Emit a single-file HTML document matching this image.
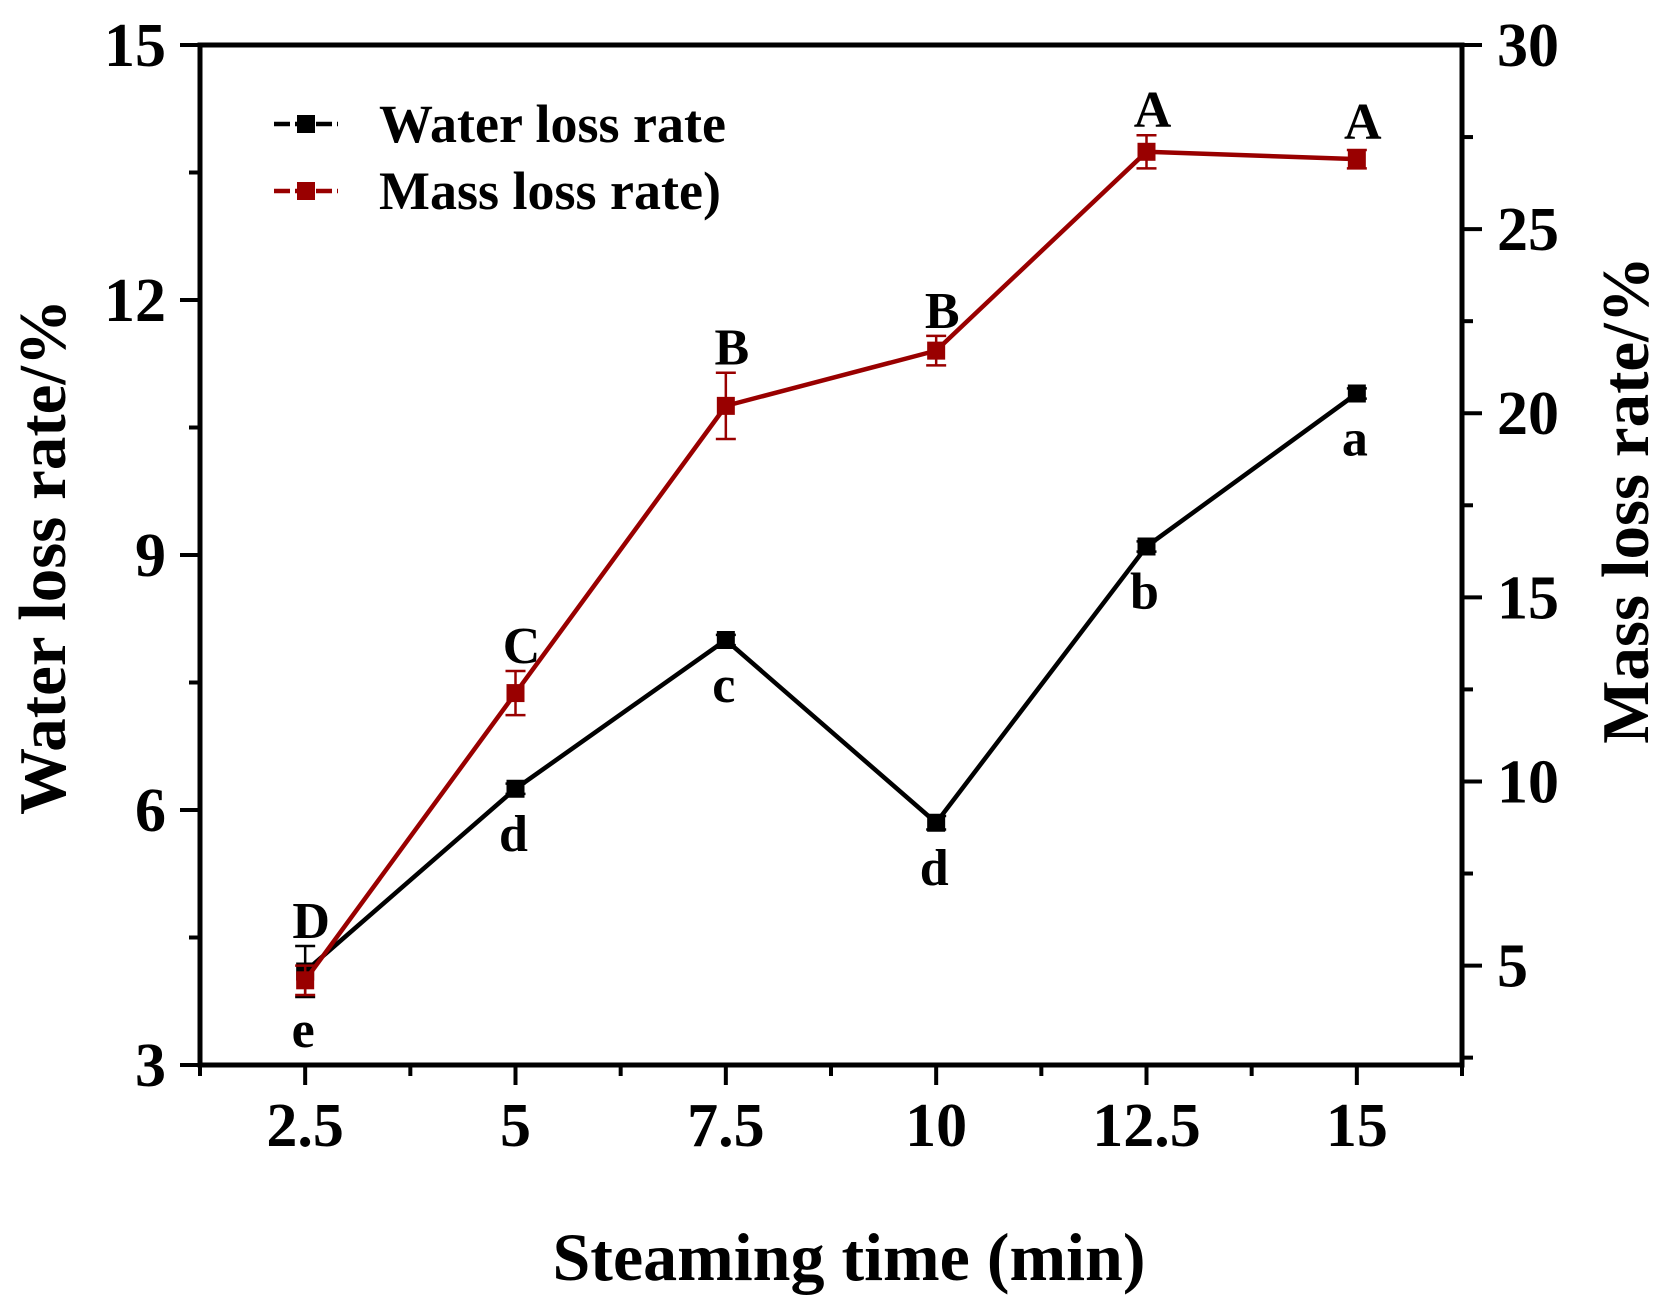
<!DOCTYPE html>
<html><head><meta charset="utf-8"><style>
html,body{margin:0;padding:0;background:#fff;}
svg{display:block;font-family:"Liberation Serif",serif;font-weight:bold;}
</style></head><body>
<svg id="chart" width="1656" height="1299" viewBox="0 0 1656 1299" xmlns="http://www.w3.org/2000/svg"></svg>
<script>
const categories=[2.5,5,7.5,10,12.5,15];
const waterValues=[4.1,6.25,8.0,5.85,9.1,10.9];
const waterErrors=[0.3,0.06,0.06,0.08,0.06,0.06];
const massValues=[4.6,12.4,20.2,21.7,27.1,26.9];
const massErrors=[0.4,0.6,0.9,0.4,0.45,0.25];
const waterLetters=["e","d","c","d","b","a"];
const massLetters=["D","C","B","B","A","A"];
const xTickLabels=["2.5","5","7.5","10","12.5","15"];
const leftTickLabels=["3","6","9","12","15"];
const rightTickLabels=["5","10","15","20","25","30"];

const L=200,R=1462,T=45,B=1065;
const X0=1.25,X1=16.25;
const xs=v=>L+(v-X0)/(X1-X0)*(R-L);
const yl=v=>B-(v-3)/12*(B-T);
const yr=v=>B-(v-2.3)/27.7*(B-T);
const svg=document.getElementById('chart');
const NS="http://www.w3.org/2000/svg";
function mk(tag,attrs,parent){const e=document.createElementNS(NS,tag);for(const k in attrs)e.setAttribute(k,attrs[k]);(parent||svg).appendChild(e);return e;}
function txt(s,attrs,name){const e=mk('text',attrs);e.textContent=s;

return e;}

const frame=mk('rect',{x:L,y:T,width:R-L,height:B-T,fill:'none',stroke:'#000','stroke-width':5});



for(let v=X0;v<=X1+0.01;v+=1.25){const maj=categories.includes(v);
const t=mk('line',{x1:xs(v),x2:xs(v),y1:B,y2:B+(maj?20:11),stroke:'#000','stroke-width':4});

}
xTickLabels.forEach((s,i)=>txt(s,{x:xs(categories[i]),y:1146,'font-size':62,'text-anchor':'middle'},'x-tick-label'));
for(let v=3;v<=15;v+=1.5){const maj=(v%3===0);
const t=mk('line',{x1:L,x2:L-(maj?20:11),y1:yl(v),y2:yl(v),stroke:'#000','stroke-width':4});

}
leftTickLabels.forEach(s=>txt(s,{x:166,y:yl(+s)+21,'font-size':62,'text-anchor':'end'},'left-y-tick-label'));
for(let v=2.5;v<=30;v+=2.5){const maj=(v%5===0);
const t=mk('line',{x1:R,x2:R+(maj?20:11),y1:yr(v),y2:yr(v),stroke:'#000','stroke-width':4});

}
rightTickLabels.forEach(s=>txt(s,{x:1497,y:yr(+s)+21,'font-size':62,'text-anchor':'start'},'right-y-tick-label'));

txt('Steaming time (min)',{x:849,y:1280,'font-size':68,'text-anchor':'middle'},'x-axis-title');
txt('Water loss rate/%',{x:0,y:0,'font-size':67,'text-anchor':'middle',transform:'translate(65,557) rotate(-90)'},'left-y-axis-title');
txt('Mass loss rate/%',{x:0,y:0,'font-size':67,'text-anchor':'middle',transform:'translate(1648,500) rotate(-90)'},'right-y-axis-title');

const tops={};
function series(vals,errs,ys,color,name,letters,above){
  const pts=vals.map((v,i)=>[xs(categories[i]),ys(v)]);
  const pl=mk('polyline',{points:pts.map(p=>p.join(',')).join(' '),fill:'none',stroke:color,'stroke-width':4.5,'stroke-linejoin':'round'});
  
  
  vals.forEach((v,i)=>{const x=pts[i][0];const y1=ys(v+errs[i]),y2=ys(v-errs[i]);
    const g=mk('g',{});
    
    
    mk('line',{x1:x,x2:x,y1:y1,y2:y2,stroke:color,'stroke-width':2.5},g);
    mk('line',{x1:x-10,x2:x+10,y1:y1,y2:y1,stroke:color,'stroke-width':2.5},g);
    mk('line',{x1:x-10,x2:x+10,y1:y2,y2:y2,stroke:color,'stroke-width':2.5},g);
    const m=mk('rect',{x:x-9,y:pts[i][1]-9,width:18,height:18,fill:color});
    
    
    if(!above) tops[i]=Math.min(y1,pts[i][1]-12);
    let ly;
    if(above){let top=Math.min(y1,pts[i][1]-12);if(tops[i]<top && Math.abs(tops[i]-top)<80) top=tops[i];ly=top-8;}
    else ly=Math.max(y2,pts[i][1]+12)+50;
    txt(letters[i],{x:x+(above?6:-2),y:ly,'font-size':52,'text-anchor':'middle'},name+'-significance-letter');
  });
}
series(waterValues,waterErrors,yl,'#000','water-loss',waterLetters,false);
series(massValues,massErrors,yr,'#990000','mass-loss',massLetters,true);

function leg(y,color,label,name){
  const g=mk('g',{});
  
  
  mk('line',{x1:274,x2:338,y1:y,y2:y,stroke:color,'stroke-width':4.5,'stroke-dasharray':'16,5'},g);
  mk('rect',{x:297,y:y-9,width:18,height:18,fill:color},g);
  const t=mk('text',{x:379,y:y+18,'font-size':54},g);t.textContent=label;
}
leg(124,'#000','Water loss rate','legend-water-loss');
leg(191,'#990000','Mass loss rate)','legend-mass-loss');
</script>
</body></html>
